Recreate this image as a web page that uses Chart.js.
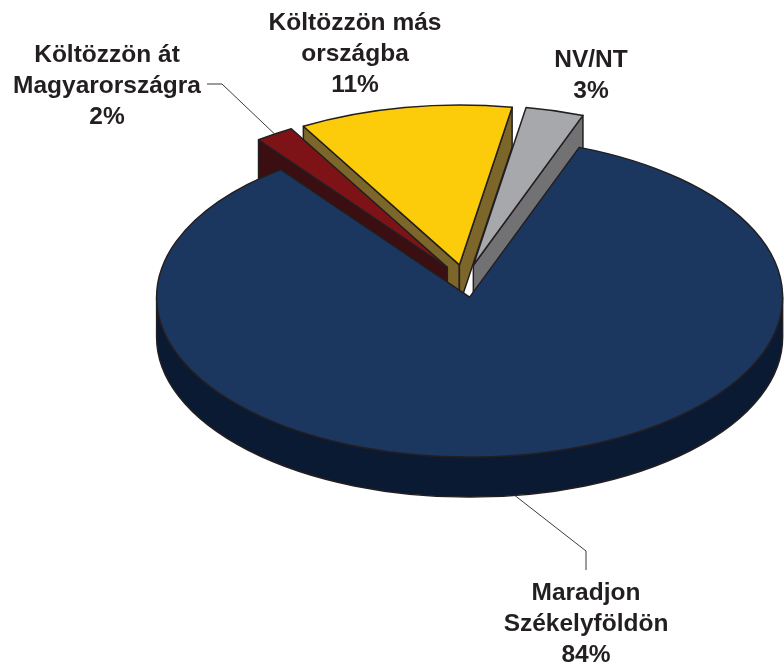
<!DOCTYPE html>
<html>
<head>
<meta charset="utf-8">
<script src="https://cdn.jsdelivr.net/npm/chart.js@4.4.1/dist/chart.umd.min.js"></script>
<style>
  html, body { margin: 0; padding: 0; background: #fff; }
</style>
</head>
<body>
<canvas id="pie3d" width="784" height="666"></canvas>
<script>
// data
const categories = [['Maradjon', 'Székelyföldön'], ['Költözzön át', 'Magyarországra'], ['Költözzön más', 'országba'], ['NV/NT']];
const shares = [84, 2, 11, 3];
const topColors = ['#1b365f', '#7e1317', '#fccb0a', '#a7a8ab'];
const sideColors = ['#0b1a33', '#3b0e11', '#7c6629', '#727275'];

// fake 3D look
const tilt = 0.511;      // vertical squash
const depth = 40;        // thickness in px
const explode = 32;      // pull-out of each slice
const outline = '#231f20';
const drawOrder = [2, 3, 1, 0];  // back to front

// where the labels sit (center x, first baseline) + leader line elbows
const labelSpots = [
    { x: 586, y: 600, lead: [[586, 570], [586, 551]], end: 'wall' },
    { x: 107, y: 62, lead: [[207, 84], [222, 84]], end: 'rim' },
    { x: 355, y: 30 },
    { x: 591, y: 67 }
];
const labelFont = 'bold 24.5px "Liberation Sans", Arial, sans-serif';
const lineHeight = 31;

function sliceGeom(arc) {
    const mid = (arc.startAngle + arc.endAngle) / 2;
    return {
        sx: arc.x + Math.cos(mid) * explode,
        sy: arc.y + Math.sin(mid) * explode * tilt,
        r: arc.outerRadius,
        ry: arc.outerRadius * tilt,
        mid: mid
    };
}

function paint(ctx, fill) {
    ctx.fillStyle = fill;
    ctx.fill();
    ctx.stroke();
}

function radialWall(ctx, g, a, color) {
    const ex = g.sx + Math.cos(a) * g.r;
    const ey = g.sy + Math.sin(a) * g.ry;
    ctx.beginPath();
    ctx.moveTo(g.sx, g.sy);
    ctx.lineTo(ex, ey);
    ctx.lineTo(ex, ey + depth);
    ctx.lineTo(g.sx, g.sy + depth);
    ctx.closePath();
    paint(ctx, color);
}

function outerWall(ctx, g, a0, a1, color) {
    // only the front half of the rim faces the viewer
    for (let k = -1; k <= 1; k++) {
        const s = Math.max(a0, 2 * Math.PI * k);
        const t = Math.min(a1, 2 * Math.PI * k + Math.PI);
        if (t <= s) continue;
        ctx.beginPath();
        ctx.ellipse(g.sx, g.sy, g.r, g.ry, 0, s, t);
        ctx.ellipse(g.sx, g.sy + depth, g.r, g.ry, 0, t, s, true);
        ctx.closePath();
        paint(ctx, color);
    }
}

const pie3dPlugin = {
    id: 'pie3d',
    beforeDatasetsDraw(chart) {
        const ctx = chart.ctx;
        const arcs = chart.getDatasetMeta(0).data;
        ctx.save();
        ctx.strokeStyle = outline;
        ctx.lineWidth = 1.5;
        ctx.lineJoin = 'round';
        drawOrder.forEach(function (i) {
            const arc = arcs[i];
            const g = sliceGeom(arc);
            const a0 = arc.startAngle, a1 = arc.endAngle;
            outerWall(ctx, g, a0, a1, sideColors[i]);
            if (Math.cos(a0) < 0) radialWall(ctx, g, a0, sideColors[i]);
            if (Math.cos(a1) > 0) radialWall(ctx, g, a1, sideColors[i]);
            // top face
            ctx.beginPath();
            ctx.moveTo(g.sx, g.sy);
            ctx.ellipse(g.sx, g.sy, g.r, g.ry, 0, a0, a1);
            ctx.closePath();
            paint(ctx, topColors[i]);
        });
        ctx.restore();
        return false;
    },
    afterDraw(chart) {
        const ctx = chart.ctx;
        const arcs = chart.getDatasetMeta(0).data;
        ctx.save();
        // leader lines
        ctx.strokeStyle = '#3a3a3a';
        ctx.lineWidth = 1;
        labelSpots.forEach(function (spot, i) {
            if (!spot.lead) return;
            const g = sliceGeom(arcs[i]);
            let ex = g.sx + Math.cos(g.mid) * g.r;
            let ey = g.sy + Math.sin(g.mid) * g.ry;
            if (spot.end === 'wall') ey += depth;
            ctx.beginPath();
            ctx.moveTo(spot.lead[0][0], spot.lead[0][1]);
            ctx.lineTo(spot.lead[1][0], spot.lead[1][1]);
            ctx.lineTo(ex, ey);
            ctx.stroke();
        });
        // labels
        ctx.fillStyle = outline;
        ctx.font = labelFont;
        ctx.textAlign = 'center';
        ctx.textBaseline = 'alphabetic';
        labelSpots.forEach(function (spot, i) {
            const lines = categories[i].concat([shares[i] + '%']);
            lines.forEach(function (txt, j) {
                ctx.fillText(txt, spot.x, spot.y + j * lineHeight);
            });
        });
        ctx.restore();
    }
};

const pieChart = new Chart(document.getElementById('pie3d'), {
    type: 'pie',
    data: {
        labels: categories,
        datasets: [{
            data: shares,
            backgroundColor: topColors,
            borderColor: outline,
            borderWidth: 1.5
        }]
    },
    options: {
        responsive: false,
        animation: false,
        rotation: 20.5,
        radius: 313,
        layout: {
            padding: { left: 146, right: 0, top: 0, bottom: 104 }
        },
        plugins: {
            legend: { display: false },
            tooltip: { enabled: false }
        }
    },
    plugins: [pie3dPlugin]
});
</script>
</body>
</html>
